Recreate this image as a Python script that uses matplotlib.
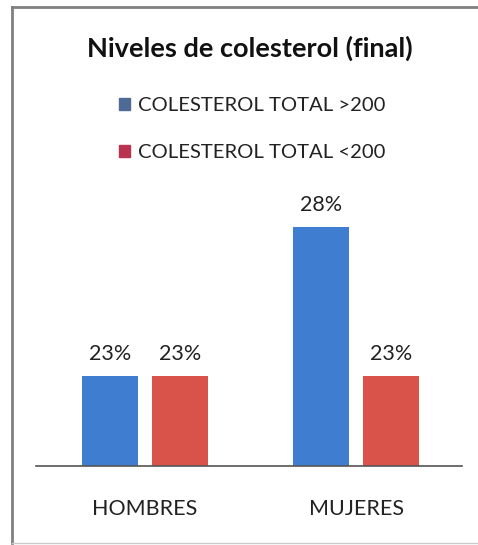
import numpy as np
import matplotlib.pyplot as plt
from matplotlib.patches import Patch
from matplotlib.lines import Line2D

# Data
categorias = ["HOMBRES", "MUJERES"]
mayor_200 = [23, 28]
menor_200 = [23, 23]
series = ["COLESTEROL TOTAL >200", "COLESTEROL TOTAL <200"]

azul = "#3F7DD0"
rojo = "#D9534A"

plt.rcParams['font.family'] = ['Lato', 'DejaVu Sans']

fig = plt.figure(figsize=(4.78, 5.45), dpi=100)
ax = fig.add_axes([0.0753, 0.145, 0.891, 0.549])

x = np.arange(len(categorias))
w = 0.265
off = 0.1655
b1 = ax.bar(x - off, mayor_200, w, color=azul, bottom=0)
b2 = ax.bar(x + off, menor_200, w, color=rojo, bottom=0)

for bars, vals in ((b1, mayor_200), (b2, menor_200)):
    for b, v in zip(bars, vals):
        ax.text(b.get_x() + b.get_width() / 2, v + 0.4, f"{v}%",
                ha="center", va="bottom", fontsize=15.5, color="#222222")

ax.set_ylim(20, 30)
ax.set_xlim(-0.515, 1.5)
ax.set_yticks([])
ax.set_xticks(x)
ax.set_xticklabels(categorias, fontsize=15.5, color="#222222")
ax.tick_params(axis="x", length=0, pad=24)
for s in ["top", "right", "left"]:
    ax.spines[s].set_visible(False)
ax.spines["bottom"].set_color("#555555")
ax.spines["bottom"].set_linewidth(1.2)

fig.text(0.523, 0.912, "Niveles de colesterol (final)", ha="center", va="center",
         fontsize=19.5, fontweight="bold", color="#111111")

handles = [Patch(color="#4F6B95"), Patch(color="#B8344F")]
fig.legend(handles, series, loc="center", bbox_to_anchor=(0.528, 0.763),
           frameon=False, fontsize=14.6, handlelength=0.55, handleheight=0.55,
           handletextpad=0.4, labelspacing=1.45, labelcolor="#222222")

# chart border
fig.add_artist(Line2D([0.025, 0.025], [0.004, 0.987], color="#808080", lw=2))
fig.add_artist(Line2D([0.025, 1.0], [0.987, 0.987], color="#808080", lw=2))
fig.add_artist(Line2D([0.025, 1.0], [0.004, 0.004], color="#cccccc", lw=1))

fig.savefig("out.png", dpi=100)
